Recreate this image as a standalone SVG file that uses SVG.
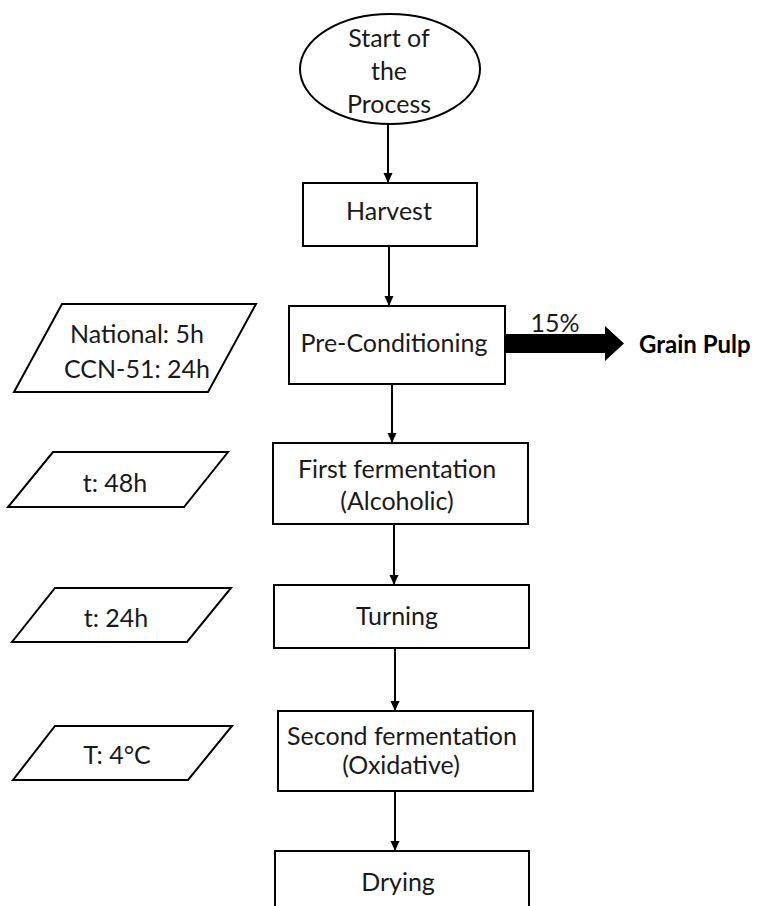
<svg xmlns="http://www.w3.org/2000/svg" width="760" height="906" viewBox="0 0 760 906">
  <defs>
    <marker id="ah" markerUnits="userSpaceOnUse" markerWidth="10" markerHeight="10" refX="10" refY="4.5" orient="auto">
      <path d="M0,0 L10,4.5 L0,9 z" fill="#000"/>
    </marker>
    <style>
      .shape { fill: #fff; stroke: #000; stroke-width: 2; }
      .lbl { font-family: Lato, "Liberation Sans", sans-serif; font-size: 25px; fill: #1a1a1a; text-anchor: middle; }
      .bold { font-weight: bold; font-size: 24px; text-anchor: start; fill: #000; }
      .conn { stroke: #000; stroke-width: 2; fill: none; marker-end: url(#ah); }
    </style>
  </defs>
  <rect width="760" height="906" fill="#fff"/>

  <g id="connectors">
    <line class="conn" x1="388" y1="124" x2="388" y2="183"/>
    <line class="conn" x1="389" y1="246" x2="389" y2="306"/>
    <line class="conn" x1="392" y1="384" x2="392" y2="443"/>
    <line class="conn" x1="394" y1="524" x2="394" y2="585"/>
    <line class="conn" x1="395" y1="648" x2="395" y2="711"/>
    <line class="conn" x1="395" y1="791" x2="395" y2="851"/>
    <path id="thick-arrow" d="M505,334 L605,334 L605,326 L624,343.5 L605,361 L605,353 L505,353 z" fill="#000"/>
    <text class="lbl" x="555" y="332">15%</text>
  </g>

  <g id="start">
    <ellipse class="shape" cx="390" cy="69" rx="90" ry="55"/>
    <text class="lbl" x="389" y="47">Start of</text>
    <text class="lbl" x="389" y="80">the</text>
    <text class="lbl" x="389" y="113">Process</text>
  </g>

  <g id="harvest">
    <rect class="shape" x="303" y="183" width="174" height="63"/>
    <text class="lbl" x="389" y="220">Harvest</text>
  </g>

  <g id="preconditioning">
    <rect class="shape" x="289" y="306" width="216" height="78"/>
    <text class="lbl" x="394" y="352">Pre-Conditioning</text>
  </g>

  <g id="grain-pulp">
    <text class="lbl bold" x="639" y="353">Grain Pulp</text>
  </g>

  <g id="input-preconditioning">
    <polygon class="shape" points="62,304 256,304 208,392 14,392"/>
    <text class="lbl" x="137" y="343">National: 5h</text>
    <text class="lbl" x="137" y="378">CCN-51: 24h</text>
  </g>

  <g id="first-fermentation">
    <rect class="shape" x="273" y="443" width="255" height="81"/>
    <text class="lbl" x="397" y="478">First fermentation</text>
    <text class="lbl" x="397" y="510">(Alcoholic)</text>
  </g>

  <g id="input-first">
    <polygon class="shape" points="53,452 228,452 184,507 8,507"/>
    <text class="lbl" x="115" y="492">t: 48h</text>
  </g>

  <g id="turning">
    <rect class="shape" x="274" y="585" width="255" height="63"/>
    <text class="lbl" x="397" y="625">Turning</text>
  </g>

  <g id="input-turning">
    <polygon class="shape" points="55,588 231,588 187,642 12,642"/>
    <text class="lbl" x="116" y="627">t: 24h</text>
  </g>

  <g id="second-fermentation">
    <rect class="shape" x="278" y="711" width="255" height="80"/>
    <text class="lbl" x="402" y="745">Second fermentation</text>
    <text class="lbl" x="401" y="774">(Oxidative)</text>
  </g>

  <g id="input-second">
    <polygon class="shape" points="55,726 232,726 188,780 13,780"/>
    <text class="lbl" x="117" y="764">T: 4°C</text>
  </g>

  <g id="drying">
    <rect class="shape" x="275" y="851" width="254" height="70"/>
    <text class="lbl" x="398" y="891">Drying</text>
  </g>
</svg>
